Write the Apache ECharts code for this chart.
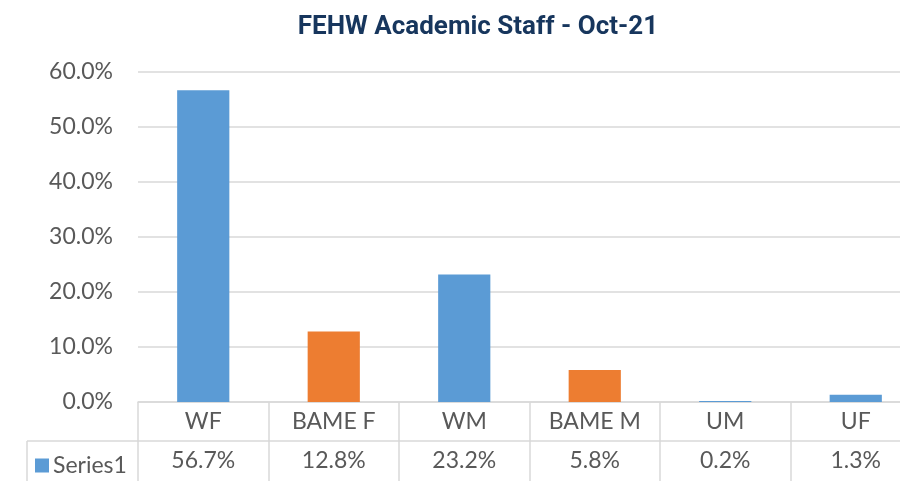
<!DOCTYPE html>
<html>
<head>
<meta charset="utf-8">
<script src="https://cdn.jsdelivr.net/npm/echarts@6/dist/echarts.min.js"></script>
<style>html,body{margin:0;padding:0;background:#fff}#c{width:900px;height:481px}</style>
</head>
<body>
<div id="c"></div>
<script>
var categories = ['WF', 'BAME F', 'WM', 'BAME M', 'UM', 'UF'];
var values = [56.7, 12.8, 23.2, 5.8, 0.2, 1.3];
var barColors = ['#5b9bd5', '#ed7d31', '#5b9bd5', '#ed7d31', '#5b9bd5', '#5b9bd5'];
var seriesName = 'Series1';
var titleText = 'FEHW Academic Staff - Oct-21';

var chart = echarts.init(document.getElementById('c'), null, {renderer: 'canvas'});
var font = 'Lato';
var txt = '#595959';
var lineC = '#d9d9d9';
var fs = 23;
chart.setOption({
  animation: false,
  title: {
    text: titleText, left: 473, top: 9, textAlign: 'center',
    textStyle: {fontFamily: 'Roboto', fontWeight: 'bold', fontSize: 26, color: '#17365d'}
  },
  legend: {
    data: [seriesName], left: 30, top: 449, icon: 'rect', itemWidth: 14, itemHeight: 14, itemGap: 4,
    textStyle: {fontFamily: font, fontSize: fs, color: txt, padding: [0,0,0,-1]}
  },
  grid: {left: 138, width: 783, top: 72, height: 330, containLabel: false, outerBoundsMode: 'none'},
  xAxis: [{
    type: 'category', data: categories, position: 'bottom',
    axisLine: {show: true, lineStyle: {color: lineC, width: 1.5}},
    axisTick: {show: true, interval: 0, length: 79, lineStyle: {color: lineC, width: 1.5}},
    axisLabel: {fontFamily: font, fontSize: fs, color: txt, margin: 8, interval: 0}
  }, {
    type: 'category', data: values.map(function (v) { return v.toFixed(1) + '%'; }), position: 'bottom', offset: 39,
    axisLine: {show: true, lineStyle: {color: lineC, width: 1.5}},
    axisTick: {show: false},
    axisLabel: {fontFamily: font, fontSize: fs, color: txt, margin: 8, interval: 0}
  }],
  yAxis: {
    type: 'value', min: 0, max: 60, interval: 10,
    axisLine: {show: false}, axisTick: {show: false},
    splitLine: {lineStyle: {color: lineC, width: 1.5}},
    axisLabel: {fontFamily: font, fontSize: fs, color: txt, margin: 25, formatter: function (v) { return v.toFixed(1) + '%'; }}
  },
  series: [{
    name: seriesName, type: 'bar', xAxisIndex: 0, barWidth: '40%',
    itemStyle: {color: barColors[0]},
    data: values.map(function (v, i) { return {value: v, itemStyle: {color: barColors[i]}}; })
  }],
  graphic: [
    {type: 'line', shape: {x1: 27, y1: 441, x2: 138, y2: 441}, style: {stroke: lineC, lineWidth: 1.5}},
    {type: 'line', shape: {x1: 27, y1: 441, x2: 27, y2: 481}, style: {stroke: lineC, lineWidth: 1.5}}
  ]
});
</script>
</body>
</html>
